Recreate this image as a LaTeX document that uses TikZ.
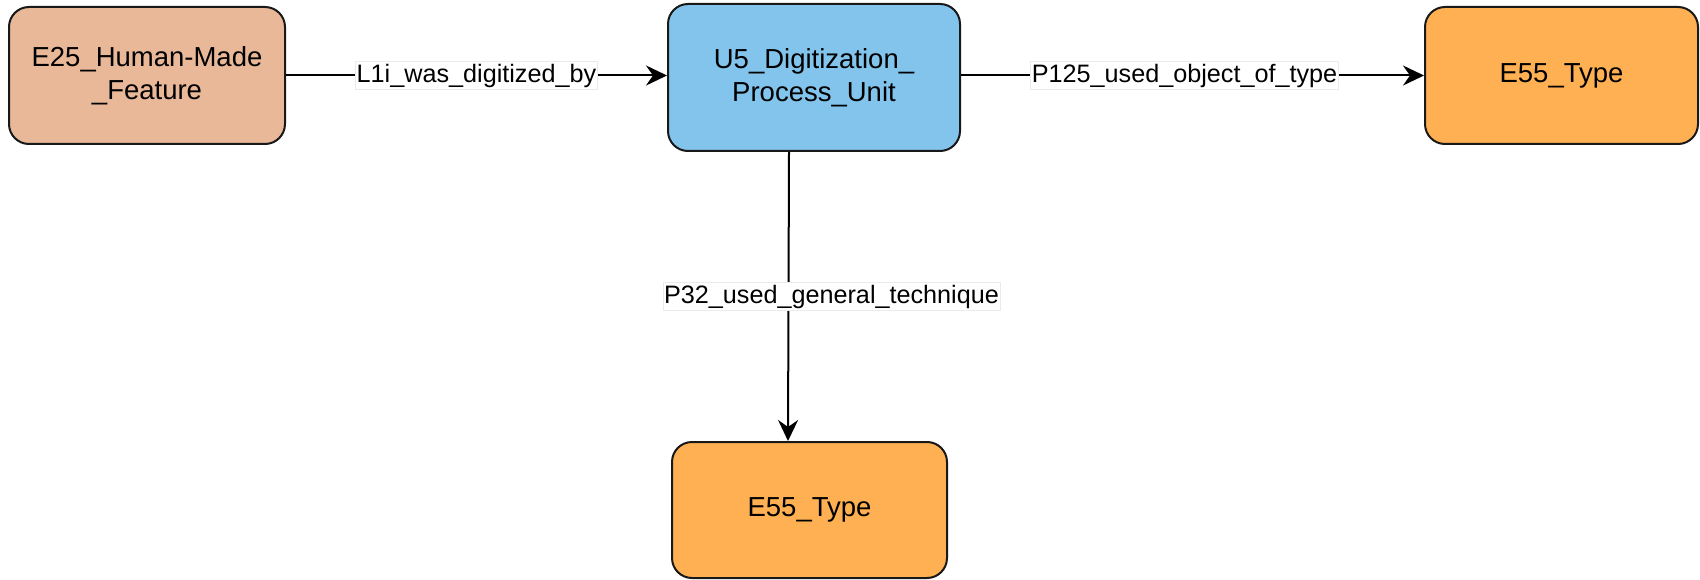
\documentclass[tikz,border=0pt]{standalone}
\usepackage{fontspec}
\setmainfont{Liberation Sans}
\usetikzlibrary{arrows.meta}
\definecolor{peach}{RGB}{233,184,153}
\definecolor{skyb}{RGB}{130,196,235}
\definecolor{orng}{RGB}{255,176,82}
\begin{document}
\begin{tikzpicture}[x=1pt,y=-1pt,
  box/.style={draw=black!90, line width=2pt, rounded corners=20pt, align=center,
    font=\fontsize{27.5}{33}\selectfont, inner sep=0pt},
  conn/.style={line width=2pt, -{Stealth[length=21pt,width=20pt,inset=7pt]}},
  lbl/.style={fill=white, draw=black!8, line width=0.6pt, inner xsep=1pt, inner ysep=2pt,
    font=\fontsize{25.2}{29}\selectfont}]
\useasboundingbox (0,0) rectangle (1700,580);
\node[box, fill=peach, minimum width=276pt, minimum height=137pt] (a) at (147,75.5) {E25\_Human-Made\\\_Feature};
\node[box, fill=skyb, minimum width=292pt, minimum height=147pt] (b) at (814,77.5) {U5\_Digitization\_\\Process\_Unit};
\node[box, fill=orng, minimum width=273pt, minimum height=137pt] (c) at (1561.5,75.5) {E55\_Type};
\node[box, fill=orng, minimum width=275pt, minimum height=136pt] (d) at (809.5,510) {E55\_Type};
\draw[conn] (a.east) -- (a.east -| b.west) node[lbl, midway] {L1i\_was\_digitized\_by};
\draw[conn] (b.east |- c.west) -- (c.west) node[lbl, midway, xshift=-8pt] {P125\_used\_object\_of\_type};
\draw[conn] ([xshift=-25pt]b.south) -- ([xshift=-21.5pt]d.north) node[lbl, midway, xshift=43pt] {P32\_used\_general\_technique};
\end{tikzpicture}
\end{document}
